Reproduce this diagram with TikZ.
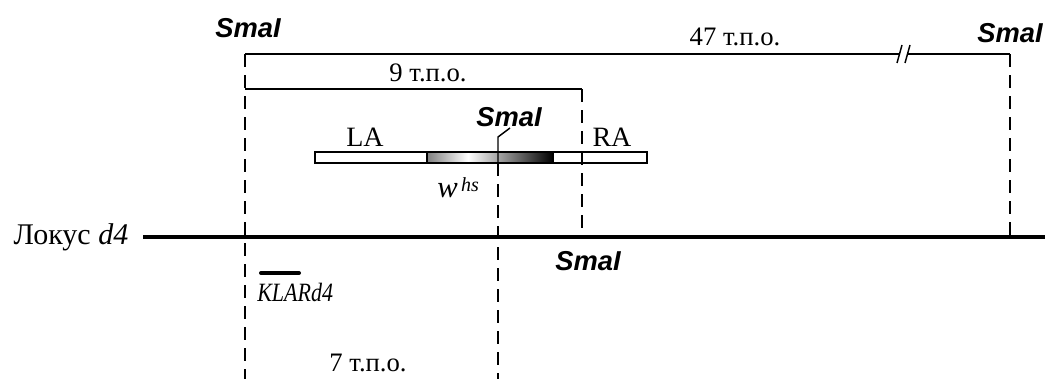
\documentclass[tikz,border=0pt]{standalone}
\usepackage{fontspec}
\setmainfont{Liberation Serif}
\newfontfamily\enzfont{Liberation Sans}
\begin{document}
\begin{tikzpicture}[x=0.75pt,y=-0.75pt,
  enz/.style={font=\enzfont\bfseries\itshape\fontsize{20.5}{22}\selectfont, inner sep=0},
  lbl/.style={font=\fontsize{20}{22}\selectfont, inner sep=0},
  bracket/.style={line width=1.1pt},
  cutline/.style={line width=1.5pt, dash pattern=on 9.75pt off 6pt},
  locusline/.style={line width=3pt},
  barframe/.style={line width=1.1pt, draw=black}]
\useasboundingbox (0,0) rectangle (1045,379);

% restriction-site positions
\coordinate (L0) at (245,54);
\coordinate (Lbot) at (245,379);
\coordinate (R0) at (1010,54);
\coordinate (Rloc) at (1010,237);
\coordinate (B9a) at (245,89);
\coordinate (B9) at (582,89);
\coordinate (B9loc) at (582,237);
\coordinate (Mtick) at (510,128);
\coordinate (Mbend) at (498,137);
\coordinate (Mbar) at (498,163);
\coordinate (Mbot) at (498,379);
\coordinate (brkL) at (899.5,54);
\coordinate (brkR) at (907.5,54);
\coordinate (locR) at (1045,237);

% transgene construct
\fill[white] (315,152) rectangle (647,163);
\shade[left color=black!50, right color=white] (427,152) rectangle (468,163);
\shade[left color=white, right color=black] (468,152) rectangle (553,163);
\draw[barframe] (315,152) rectangle (647,163);
\draw[barframe] (427,152) -- (427,163) (553,152) -- (553,163);

% top brackets
\draw[bracket] (L0) -- (brkL) (brkR) -- (R0);
\draw[bracket] (897,63) -- (902,45) (905,63) -- (910,45);
\draw[bracket] (B9a) -- (B9);

% dashed site lines
\draw[cutline] (L0) -- (Lbot);
\draw[cutline] (R0) -- (Rloc);
\draw[cutline] (B9) -- (B9loc);
\draw[bracket] (Mtick) -- (Mbend) -- (Mbar);
\draw[cutline] (Mbar) -- (Mbot);

% locus
\node[font=\fontsize{22.5}{24}\selectfont, inner sep=0] (loc) at (71,237) {Локус \textit{d4}};
\coordinate (locL) at (143,237);
\draw[locusline] (locL) -- (locR);

% probe
\coordinate (pA) at (261,273);
\coordinate (pB) at (299,273);
\draw[line width=3pt, line cap=round] (pA) -- (pB);
\node[font=\fontsize{16.5}{18}\selectfont\itshape, inner sep=0, anchor=west] (klar) at (257,292) {\scalebox{1}[1.2]{KLARd4}};

% labels
\node[enz] (s1) at (248,28) {SmaI};
\node[enz] (s2) at (1010,33) {SmaI};
\node[enz] (s3) at (509,117) {SmaI};
\node[enz] (s4) at (588,261) {SmaI};
\node[lbl] (d47) at (735,37) {47 т.п.о.};
\node[lbl] (d9) at (428,73) {9 т.п.о.};
\node[lbl, anchor=base] (d7) at (368,371) {7 т.п.о.};
\node[font=\fontsize{21}{23}\selectfont, inner sep=0] (la) at (365,137) {LA};
\node[font=\fontsize{21}{23}\selectfont, inner sep=0] (ra) at (612,137) {RA};
\node[inner sep=0, anchor=base west] (w) at (437,197) {\fontsize{23}{25}\selectfont\itshape w\kern2.5pt\raisebox{4pt}{\fontsize{15}{17}\selectfont hs}};
\end{tikzpicture}
\end{document}
